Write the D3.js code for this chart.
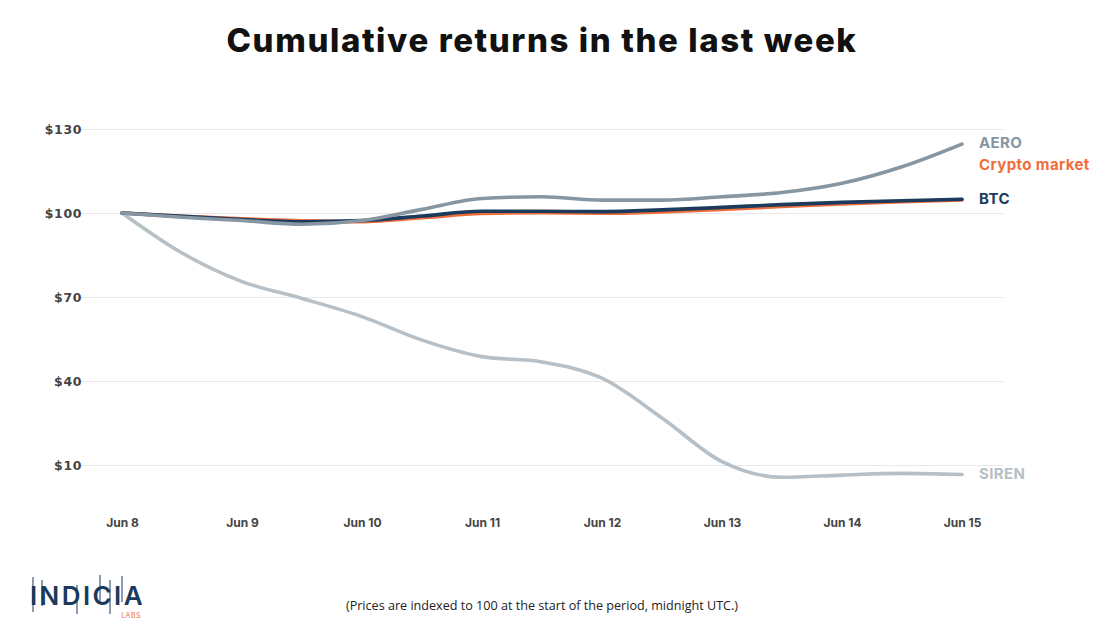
<!DOCTYPE html>
<html>
<head>
<meta charset="utf-8">
<script src="https://cdn.jsdelivr.net/npm/d3@7"></script>
<style>
  body { margin: 0; background: #fff; }
  svg { display: block; }
  .x-axis .tick text { font-family: Inter, "DejaVu Sans", sans-serif; font-weight: 700; font-size: 12px; fill: #444; }
  .y-axis .tick text { font-family: "DejaVu Sans", sans-serif; font-weight: 700; font-size: 12.5px; letter-spacing: 0.6px; fill: #444; }
</style>
</head>
<body>
<div id="chart"></div>
<script>
// Days, sampled every 12 hours (0 = Jun 8 midnight)
const steps = [0, 0.5, 1, 1.5, 2, 2.5, 3, 3.5, 4, 4.5, 5, 5.5, 6, 6.5, 7];
const dayLabels = ["Jun 8", "Jun 9", "Jun 10", "Jun 11", "Jun 12", "Jun 13", "Jun 14", "Jun 15"];
const yTicks = [10, 40, 70, 100, 130];

// Indexed prices
const siren = [100, 85.7, 75.5, 69.5, 63, 54.6, 48.7, 46.8, 41, 26.8, 11.2, 5.6, 6.4, 7, 6.6];
const crypto = [100, 98.8, 97.9, 97.2, 96.9, 98.3, 99.8, 100.1, 99.9, 100.4, 101.3, 102.3, 103.2, 104, 104.7];
const btc = [100, 98.8, 97.7, 96.9, 97.3, 98.9, 100.6, 100.6, 100.5, 101.1, 102, 103, 103.8, 104.4, 104.9];
const aero = [100, 98.5, 97.3, 96, 97.3, 101.3, 105.2, 105.8, 104.6, 104.6, 105.8, 107.3, 110.6, 116.5, 124.6];

const series = [
  { name: "SIREN", values: siren, color: "#b6c0c6", labelY: 474 },
  { name: "Crypto market", values: crypto, color: "#f06d3a", labelY: 165 },
  { name: "BTC", values: btc, color: "#1b3a5c", labelY: 199 },
  { name: "AERO", values: aero, color: "#8696a2", labelY: 143 }
];

const W = 1116, H = 627;
const svg = d3.select("#chart").append("svg")
    .attr("width", W)
    .attr("height", H);

const x = d3.scaleLinear().domain([0, 7]).range([122, 962]);
const y = d3.scaleLinear().domain([10, 130]).range([465, 129]);

// title
svg.append("text")
    .attr("x", 542).attr("y", 52)
    .attr("text-anchor", "middle")
    .style("font-family", "Inter, sans-serif")
    .style("font-weight", 800)
    .style("font-size", "33px")
    .style("letter-spacing", "1.6px")
    .style("fill", "#111")
    .text("Cumulative returns in the last week");

// grid + y labels
const yAxis = svg.append("g")
    .attr("class", "y-axis")
    .attr("transform", "translate(80,0)")
    .call(d3.axisLeft(y).tickValues(yTicks).tickSize(0).tickPadding(0).tickFormat(d => "$" + d));
yAxis.select(".domain").remove();
yAxis.selectAll(".tick line")
    .attr("x2", 923)
    .attr("stroke", "#e8e8e8")
    .attr("stroke-width", 1.2);
yAxis.selectAll(".tick text").attr("x", 2);

// x labels
const xAxis = svg.append("g")
    .attr("class", "x-axis")
    .attr("transform", "translate(0,518)")
    .call(d3.axisBottom(x).tickValues(d3.range(8)).tickSize(0).tickPadding(0).tickFormat(i => dayLabels[i]));
xAxis.select(".domain").remove();

// lines
const line = d3.line()
    .x((d, i) => x(steps[i]))
    .y(d => y(d))
    .curve(d3.curveMonotoneX);

series.forEach(s => {
  svg.append("path")
      .datum(s.values)
      .attr("fill", "none")
      .attr("stroke", s.color)
      .attr("stroke-width", 3.6)
      .attr("stroke-linecap", "round")
      .attr("d", line);

  svg.append("text")
      .attr("x", 979).attr("y", s.labelY)
      .attr("dy", "0.35em")
      .style("font-family", "Inter, sans-serif")
      .style("font-weight", 700)
      .style("font-size", "15px")
      .style("letter-spacing", "0.4px")
      .style("fill", s.color)
      .text(s.name);
});

// footnote
svg.append("text")
    .attr("x", 542).attr("y", 610)
    .attr("text-anchor", "middle")
    .style("font-family", "'Open Sans', sans-serif")
    .style("font-size", "12.6px")
    .style("fill", "#222")
    .text("(Prices are indexed to 100 at the start of the period, midnight UTC.)");

// logo
const logo = svg.append("g").attr("transform", "translate(30,0)");
const sticks = [[3, 577, 612], [12, 580, 606], [47, 585, 614], [70, 575, 604], [80, 580, 614], [92, 576, 602]];
logo.selectAll("line.stick")
  .data(sticks)
  .join("line")
    .attr("x1", d => d[0]).attr("x2", d => d[0])
    .attr("y1", d => d[1]).attr("y2", d => d[2])
    .attr("stroke", "#1b3a5c")
    .attr("stroke-width", 1);
logo.append("text")
    .attr("x", 0).attr("y", 605)
    .style("font-family", "Inter, sans-serif")
    .style("font-weight", 600)
    .style("font-size", "26px")
    .style("letter-spacing", "2.4px")
    .style("fill", "#1b3a5c")
    .text("INDICIA");
logo.append("text")
    .attr("x", 111).attr("y", 618)
    .attr("text-anchor", "end")
    .style("font-family", "Inter, sans-serif")
    .style("font-size", "7px")
    .style("letter-spacing", "0.5px")
    .style("fill", "#f06d3a")
    .text("LABS");
</script>
</body>
</html>
